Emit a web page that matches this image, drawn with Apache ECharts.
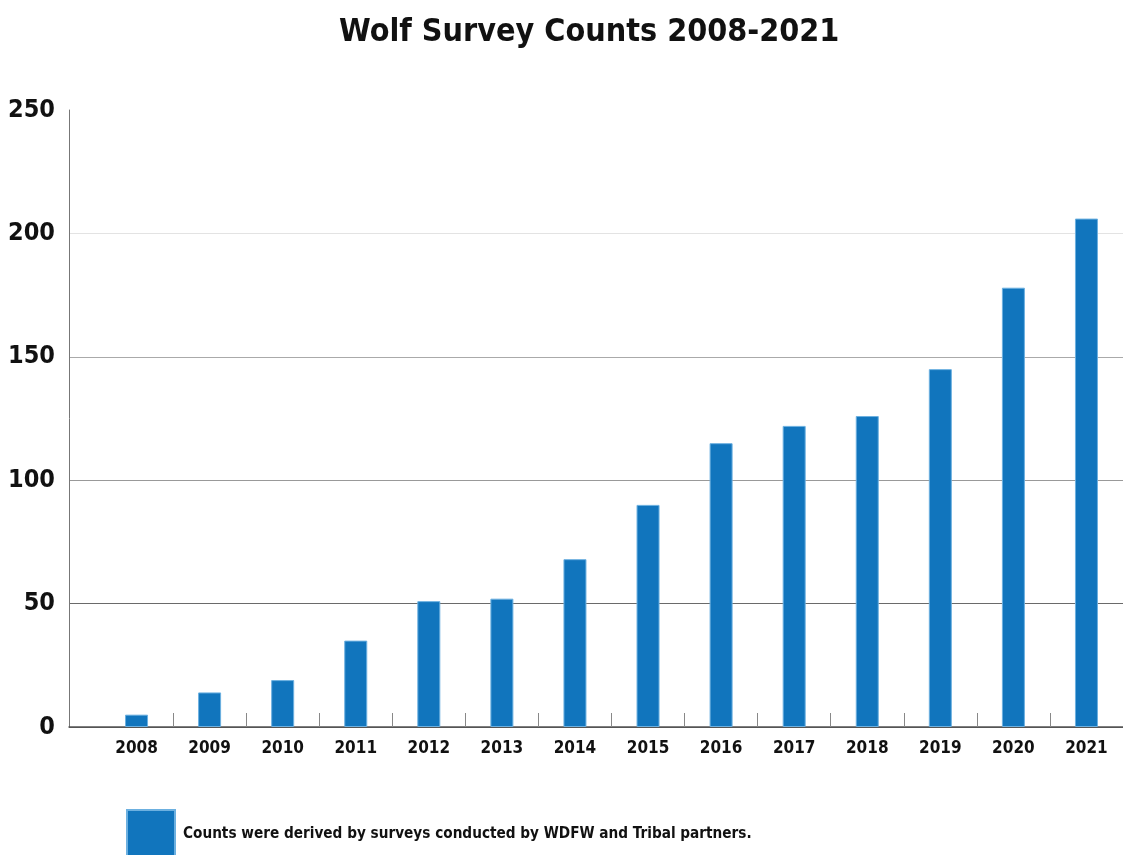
<!DOCTYPE html>
<html>
<head>
<meta charset="utf-8">
<script src="https://cdn.jsdelivr.net/npm/echarts@6/dist/echarts.min.js"></script>
<style>
html,body{margin:0;padding:0;background:#fff;}
#chart{width:1123px;height:855px;}
</style>
</head>
<body>
<div id="chart"></div>
<script>
const years = ['2008','2009','2010','2011','2012','2013','2014','2015','2016','2017','2018','2019','2020','2021'];
const counts = [5, 14, 19, 35, 51, 52, 68, 90, 115, 122, 126, 145, 178, 206];
const seriesName = 'Counts were derived by surveys conducted by WDFW and Tribal partners.';
const titleText = 'Wolf Survey Counts 2008-2021';

const FONT = "'Liberation Sans Narrow', 'DejaVu Sans Condensed', 'Liberation Sans', sans-serif";
const chart = echarts.init(document.getElementById('chart'), null, {renderer: 'canvas'});
chart.setOption({
  animation: false,
  backgroundColor: '#ffffff',
  title: {
    text: titleText,
    left: 339,
    top: 17,
    padding: 0,
    textStyle: {fontFamily: FONT, fontWeight: 'bold', fontSize: 32, color: '#111'}
  },
  legend: {
    left: 126,
    top: 809,
    padding: 0,
    itemWidth: 48,
    itemHeight: 48,
    icon: 'rect',
    data: [seriesName],
    textStyle: {fontFamily: FONT, fontWeight: 'bold', fontSize: 15.2, color: '#111', padding: [0, 0, 0, 3]}
  },
  grid: [
    {left: 69, right: 0, top: 110, bottom: 128, containLabel: false},
    {left: 100, right: 0, top: 110, bottom: 128, containLabel: false}
  ],
  xAxis: [
    {
      gridIndex: 0, type: 'value', min: 0, max: 1,
      axisLine: {show: true, lineStyle: {color: '#555', width: 1.5}},
      axisTick: {show: false}, axisLabel: {show: false}, splitLine: {show: false}
    },
    {
      gridIndex: 1, type: 'category', data: years,
      axisLine: {show: false},
      axisTick: {show: true, inside: true, length: 14, interval: function (i) { return i !== 0; }, lineStyle: {color: '#888', width: 1}},
      axisLabel: {fontFamily: FONT, fontWeight: 'bold', fontSize: 17, color: '#111', margin: 13},
      splitLine: {show: false}
    }
  ],
  yAxis: [
    {
      gridIndex: 0, type: 'value', min: 0, max: 250, interval: 50,
      axisLine: {show: true, lineStyle: {color: '#777', width: 1}},
      axisTick: {show: false},
      axisLabel: {fontFamily: FONT, fontWeight: 'bold', fontSize: 25, color: '#111', margin: 14},
      splitLine: {show: true, lineStyle: {color: ['#555', '#6a6a6a', '#999', '#aaa', '#e3e3e3', 'rgba(0,0,0,0)'], width: 1.2}}
    },
    {
      gridIndex: 1, type: 'value', min: 0, max: 250, interval: 50, show: false
    }
  ],
  series: [
    {
      name: seriesName,
      type: 'bar',
      xAxisIndex: 1,
      yAxisIndex: 1,
      data: counts,
      barWidth: 23,
      itemStyle: {color: '#1175bd', borderColor: '#6cb0e0', borderWidth: 1}
    }
  ]
});
</script>
</body>
</html>
